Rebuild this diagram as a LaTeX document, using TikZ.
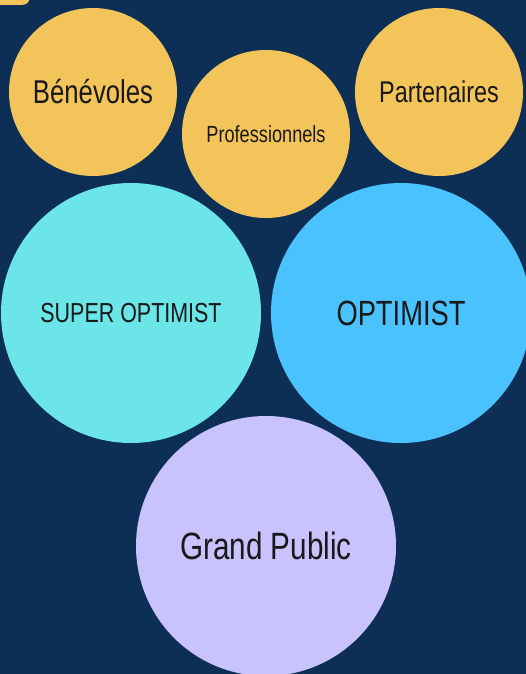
\documentclass[tikz,border=0pt]{standalone}
\usepackage{fontspec}
\setmainfont{Liberation Sans}[FakeStretch=0.78]
\usepackage{tikz}
\usetikzlibrary{shapes,positioning,backgrounds,calc}

\definecolor{nachtblau}{HTML}{0E2F55}
\definecolor{gelb}{HTML}{F2C45A}
\definecolor{tuerkis}{HTML}{6BE5E8}
\definecolor{himmel}{HTML}{4AC2FD}
\definecolor{lavendel}{HTML}{C8C2FD}

\tikzset{
  kreis/.style={circle, inner sep=0pt, text=black!90},
  klein/.style={kreis, minimum size=168pt, fill=gelb},
  gross/.style={kreis, minimum size=260pt}
}

\begin{document}
\begin{tikzpicture}[x=1pt,y=-1pt]
\useasboundingbox (0,0) rectangle (526,674);
\fill[nachtblau] (0,0) rectangle (526,674);
\clip (0,0) rectangle (526,674);
%Ecke oben links
\fill[gelb, rounded corners=8pt] (-20,-20) rectangle (30,5);
%Obere Reihe
\node[klein] (benevoles) at (93,92) {\fontsize{33}{38}\selectfont Bénévoles};
\node[klein] (pro) at (266,134) {\fontsize{23.3}{27}\selectfont Professionnels};
\node[klein] (partner) at (439,92) {\fontsize{30}{35}\selectfont Partenaires};
%Mittlere Reihe
\node[gross, fill=tuerkis] (super) at (131,313) {\fontsize{27.5}{32}\selectfont SUPER OPTIMIST};
\node[gross, fill=himmel] (optimist) at (401,313) {\fontsize{35}{40}\selectfont OPTIMIST};
%Unten
\node[gross, fill=lavendel] (public) at (266,546) {\fontsize{38}{44}\selectfont Grand Public};
\end{tikzpicture}
\end{document}
